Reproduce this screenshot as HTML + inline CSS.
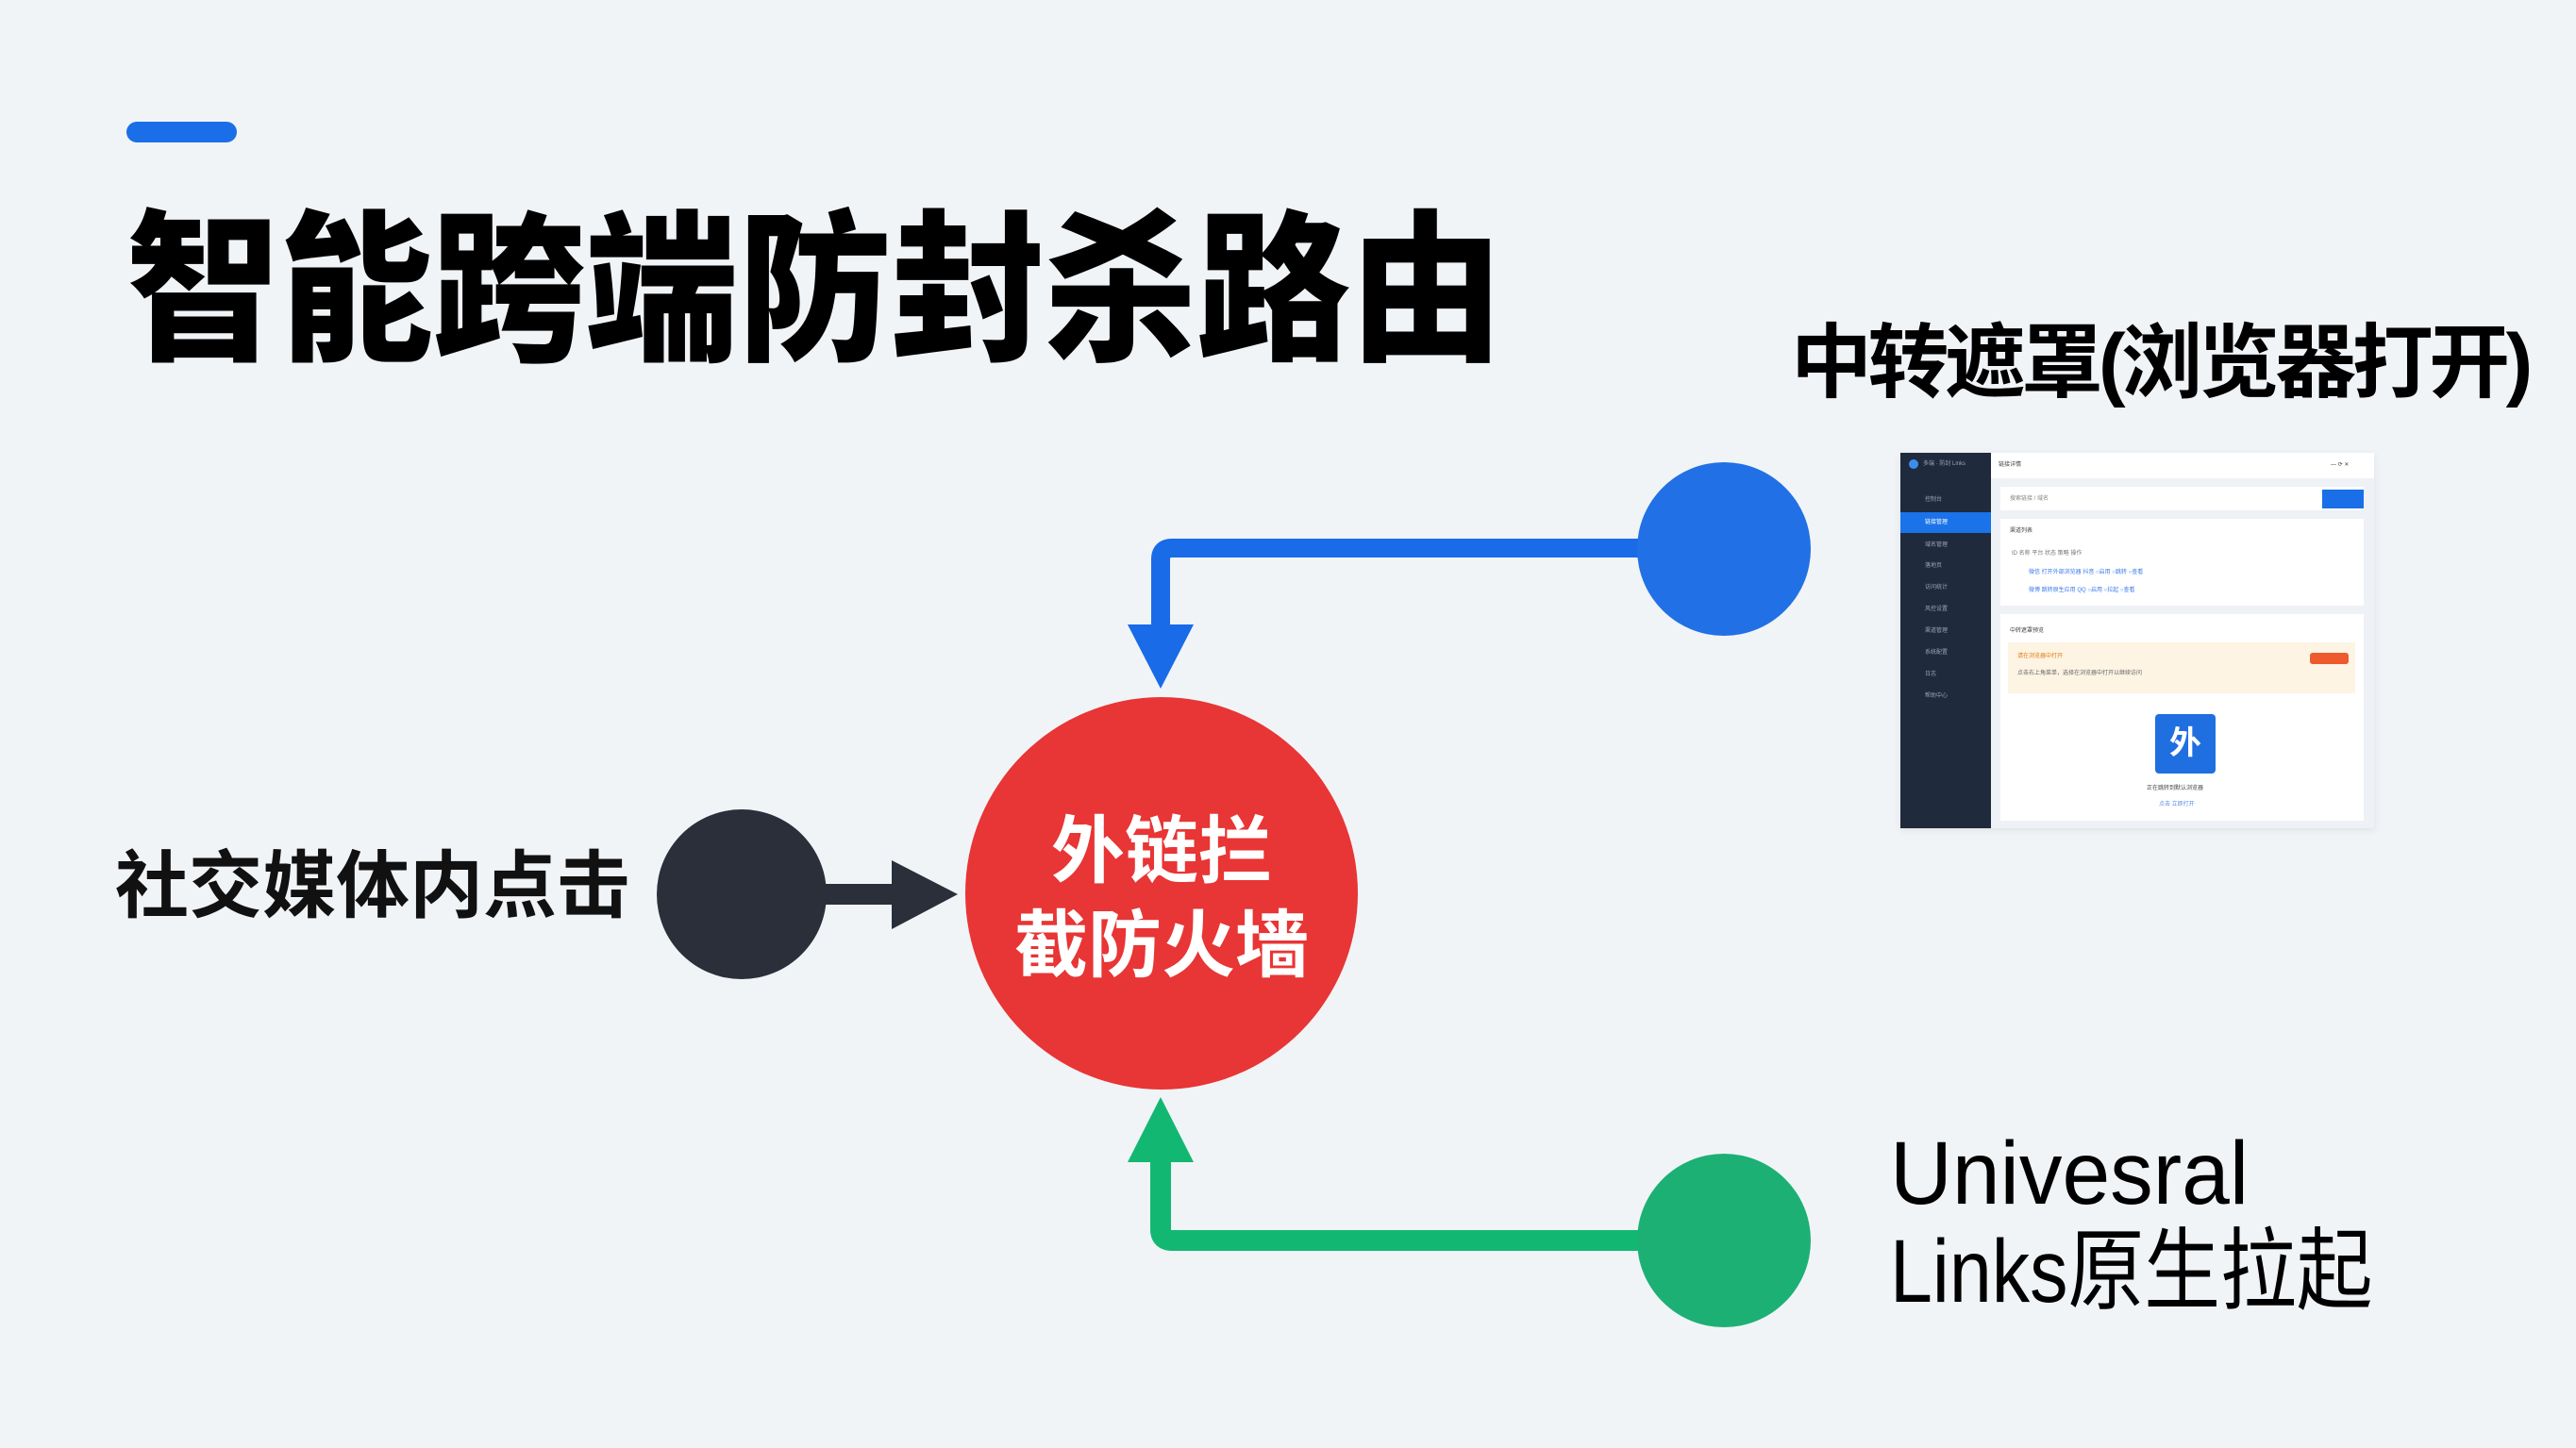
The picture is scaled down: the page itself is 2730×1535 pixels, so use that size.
<!DOCTYPE html>
<html><head><meta charset="utf-8"><style>
html,body{margin:0;padding:0}
body{width:2730px;height:1535px;position:relative;overflow:hidden;background:#f1f4f7;font-family:"Liberation Sans","Noto Sans CJK SC",sans-serif}
.t{position:absolute;white-space:nowrap;line-height:1}
.ss{position:absolute;left:2014px;top:480px;width:502px;height:398px;background:#eef2f6;box-shadow:0 2px 8px rgba(0,0,0,.08)}
.sb{position:absolute;left:0;top:0;width:96px;height:398px;background:#1f2a3c}
.sm{position:absolute;left:0;width:96px;height:22px;font-size:6px;color:#9aa6b8;line-height:22px;padding-left:26px;box-sizing:border-box}
.card{position:absolute;background:#fff}
.tiny{position:absolute;font-size:6px;color:#444;white-space:nowrap;line-height:1}
</style></head><body>
<div style="position:absolute;left:134px;top:129px;width:117px;height:22px;border-radius:11px;background:#1a6fe8"></div>
<div class="t" style="left:134px;top:222px;font-size:163px;font-weight:900;color:#000;transform:scaleY(1.06);transform-origin:top left;letter-spacing:-1px">智能跨端防封杀路由</div>
<div class="t" style="left:1898px;top:342px;font-size:86px;font-weight:700;color:#000;letter-spacing:-4.5px">中转遮罩(浏览器打开)</div>
<div class="t" style="left:122px;top:900px;font-size:78px;font-weight:700;color:#111">社交媒体内点击</div>
<div class="t" style="left:2003px;top:1192px;font-size:95px;color:#000;line-height:1.1;transform:scaleX(0.96);transform-origin:top left">Univesral</div>
<div class="t" style="left:2003px;top:1296px;font-size:95px;color:#000;line-height:1.1;transform:scaleX(0.85);transform-origin:top left">Links原生拉起</div>

<svg width="2730" height="1535" style="position:absolute;left:0;top:0">
<path d="M1827 581 H1242 Q1230 581 1230 593 V665" fill="none" stroke="#1a6be8" stroke-width="20"/>
<polygon points="1195,662 1265,662 1230,730" fill="#1a6be8"/>
<path d="M1827 1315 H1242 Q1230 1315 1230 1303 V1228" fill="none" stroke="#12b872" stroke-width="22"/>
<polygon points="1195,1232 1265,1232 1230,1163" fill="#12b872"/>
<circle cx="1827" cy="582" r="92" fill="#2170e6"/>
<circle cx="1827" cy="1315" r="92" fill="#1db074"/>
<line x1="860" y1="948" x2="955" y2="948" stroke="#2a2f3a" stroke-width="22"/>
<polygon points="945,912 1015,948 945,985" fill="#2a2f3a"/>
<circle cx="786" cy="948" r="90" fill="#2b2f3a"/>
<circle cx="1231" cy="947" r="208" fill="#e83535"/>
</svg>
<div class="t" style="left:1023px;top:852px;width:416px;text-align:center;font-size:78px;font-weight:700;color:#fff;line-height:100px">外链拦<br>截防火墙</div>

<div class="ss">
 <div class="sb">
  <div style="position:absolute;left:9px;top:7px;width:10px;height:10px;border-radius:50%;background:#3a8ef0"></div>
  <div class="tiny" style="left:24px;top:9px;color:#9aa6b8">多端 · 防封 Links</div>
  <div class="sm" style="top:39px">控制台</div>
  <div class="sm" style="top:63px;background:#1a73e8;color:#fff">链接管理</div>
  <div class="sm" style="top:87px">域名管理</div>
  <div class="sm" style="top:109px">落地页</div>
  <div class="sm" style="top:132px">访问统计</div>
  <div class="sm" style="top:155px">风控设置</div>
  <div class="sm" style="top:178px">渠道管理</div>
  <div class="sm" style="top:201px">系统配置</div>
  <div class="sm" style="top:224px">日志</div>
  <div class="sm" style="top:247px">帮助中心</div>
 </div>
 <div class="card" style="left:96px;top:0;width:406px;height:27px"><div class="tiny" style="left:8px;top:10px">链接详情</div><div class="tiny" style="left:360px;top:10px">—  ⟳  ✕</div></div>
 <div class="card" style="left:106px;top:36px;width:385px;height:25px"><div class="tiny" style="left:10px;top:10px;color:#888">搜索链接 / 域名</div><div style="position:absolute;left:341px;top:3px;width:44px;height:20px;background:#1a6fe8"></div></div>
 <div class="card" style="left:106px;top:70px;width:385px;height:92px"><div class="tiny" style="left:10px;top:10px">渠道列表</div><div class="tiny" style="left:12px;top:34px;color:#777">ID  名称        平台        状态        策略        操作</div><div class="tiny" style="left:30px;top:54px;color:#3a7be8">微信  打开外部浏览器  抖音  ○启用  ○跳转  ○查看</div><div class="tiny" style="left:30px;top:73px;color:#3a7be8">微博  跳转原生应用  QQ  ○启用  ○拉起  ○查看</div></div>
 <div class="card" style="left:106px;top:171px;width:385px;height:219px">
  <div class="tiny" style="left:10px;top:15px">中转遮罩预览</div>
  <div style="position:absolute;left:8px;top:30px;width:368px;height:54px;background:#fdf4e4"></div>
  <div style="position:absolute;left:328px;top:41px;width:41px;height:12px;border-radius:3px;background:#ee5a2c"></div>
  <div class="tiny" style="left:18px;top:42px;color:#e07a10">请在浏览器中打开</div>
  <div class="tiny" style="left:18px;top:60px;color:#666">点击右上角菜单，选择在浏览器中打开以继续访问</div>
  <div style="position:absolute;left:164px;top:106px;width:64px;height:63px;border-radius:4px;background:#1f6fe0;color:#fff;font-size:34px;font-weight:700;text-align:center;line-height:63px">外</div>
  <div class="tiny" style="left:155px;top:182px">正在跳转到默认浏览器</div>
  <div class="tiny" style="left:168px;top:199px;color:#5b8ee8">点击 立即打开</div>
 </div>
</div>
</body></html>
